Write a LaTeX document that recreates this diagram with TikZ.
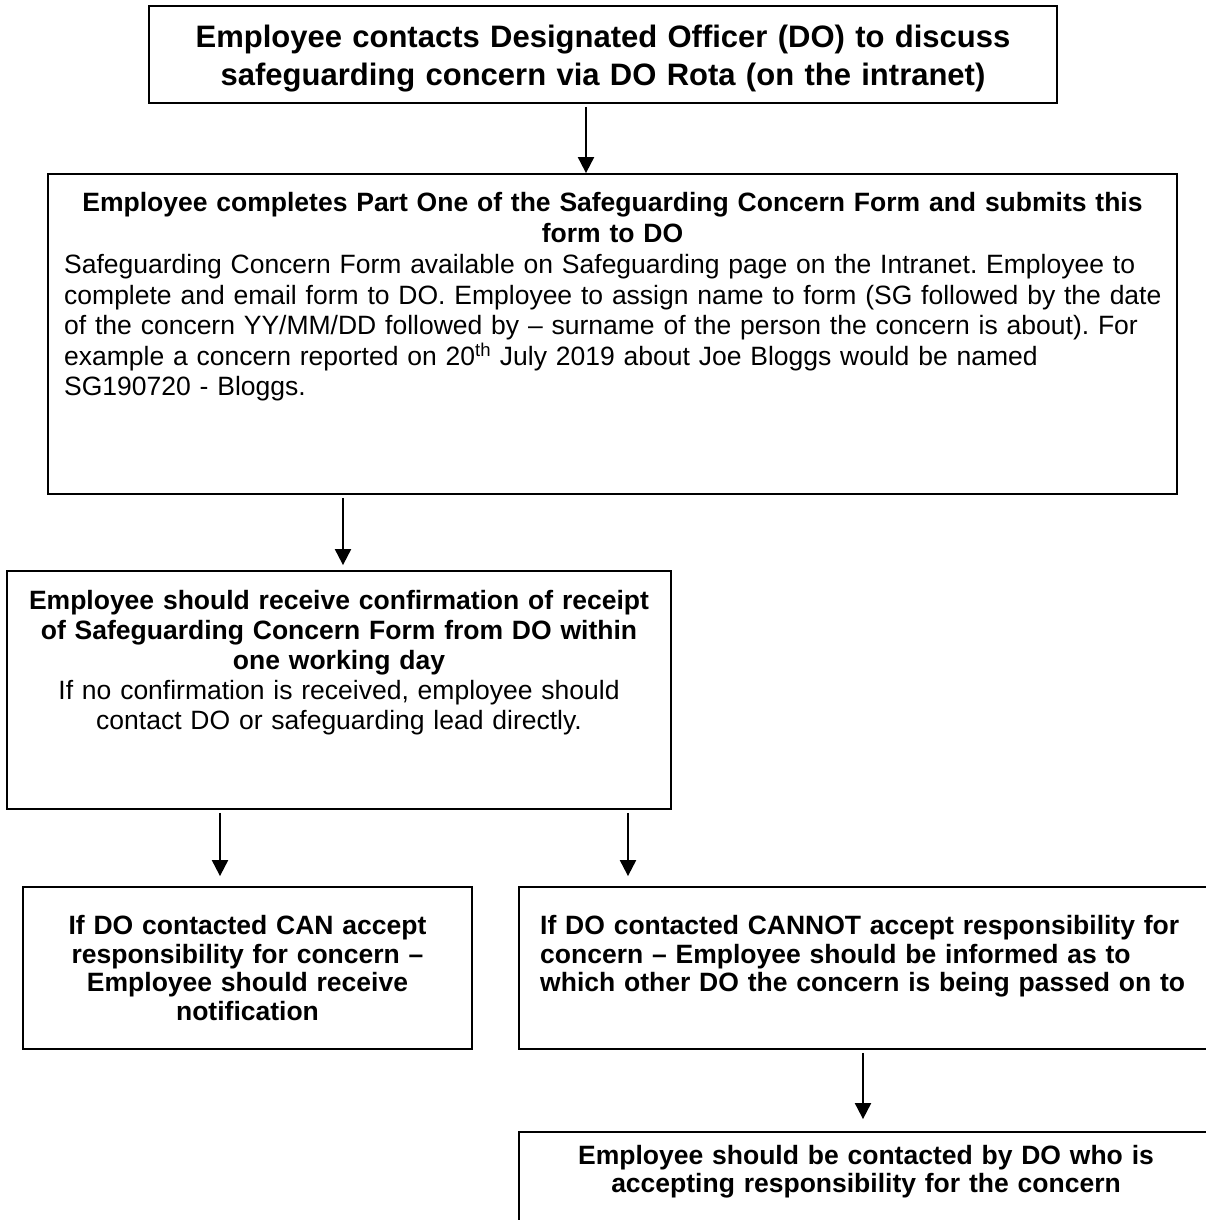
\documentclass[tikz,border=0pt]{standalone}
\usepackage{fontspec}
\setmainfont{Liberation Sans}
\usetikzlibrary{arrows.meta}
\newcommand\fz[2]{\fontsize{#1}{#2}\selectfont}
\frenchspacing
\begin{document}
\begin{tikzpicture}[x=1pt,y=-1pt,
  box/.style={draw=black, line width=1.8pt, inner sep=0pt},
  txt/.style={inner sep=0pt},
  arr/.style={line width=2pt, -{Triangle[length=16pt,width=16pt]}, shorten <=3pt}]
\clip (0,0) rectangle (1206,1220);
\fill[white] (0,0) rectangle (1206,1220);
% boxes
\node[box, minimum width=908pt, minimum height=97pt] (b1) at (603,54.5) {};
\node[box, minimum width=1129pt, minimum height=320pt] (b2) at (612.5,334) {};
\node[box, minimum width=664pt, minimum height=238pt] (b3) at (339,690) {};
\node[box, minimum width=449pt, minimum height=162pt] (b4) at (247.5,968) {};
\node[box, minimum width=701pt, minimum height=162pt] (b5) at (869.5,968) {};
\node[box, minimum width=701pt, minimum height=108pt] (b6) at (869.5,1186) {};
% texts
\node[txt, anchor=north, text width=880pt, align=center, font=\fz{31}{38}\bfseries] (t1) at (603,21)
  {\strut Employee contacts Designated Officer (DO) to discuss\\safeguarding concern via DO Rota (on the intranet)};
\node[txt, anchor=north, text width=1097pt, align=center, font=\fz{26.5}{30.5}\bfseries] (t2a) at (612.5,190)
  {\strut Employee completes Part One of the Safeguarding Concern Form and submits this\\form to DO};
\node[txt, anchor=north west, text width=1110pt, align=left, font=\fz{26.5}{30.5}] (t2b) at (64,252)
  {\strut Safeguarding Concern Form available on Safeguarding page on the Intranet. Employee to\\
   complete and email form to DO. Employee to assign name to form (SG followed by the date\\
   of the concern YY/MM/DD followed by – surname of the person the concern is about). For\\
   example a concern reported on 20\textsuperscript{th} July 2019 about Joe Bloggs would be named\\
   SG190720 - Bloggs.};
\node[txt, anchor=north, text width=640pt, align=center, font=\fz{26.5}{30}] (t3) at (339,588.5)
  {\strut\textbf{Employee should receive confirmation of receipt}\\
   \textbf{of Safeguarding Concern Form from DO within}\\
   \textbf{one working day}\\
   If no confirmation is received, employee should\\
   contact DO or safeguarding lead directly.};
\node[txt, anchor=north, text width=430pt, align=center, font=\fz{26.5}{28.5}\bfseries] (t4) at (247.5,914.5)
  {\strut If DO contacted CAN accept\\responsibility for concern –\\Employee should receive\\notification};
\node[txt, anchor=north west, text width=660pt, align=left, font=\fz{26.5}{28.5}\bfseries] (t5) at (540,914.5)
  {\strut If DO contacted CANNOT accept responsibility for\\concern – Employee should be informed as to\\which other DO the concern is being passed on to};
\node[txt, anchor=north, text width=660pt, align=center, font=\fz{26.5}{28}\bfseries] (t6) at (866,1144.5)
  {\strut Employee should be contacted by DO who is\\accepting responsibility for the concern};
% arrows
\draw[arr] (b1.south -| 586,0) -- (b2.north -| 586,0);
\draw[arr, shorten >=5pt] (b2.south -| 343,0) -- (b3.north -| 343,0);
\draw[arr, shorten >=10pt] (b3.south -| 220,0) -- (b4.north -| 220,0);
\draw[arr, shorten >=10pt] (b3.south -| 628,0) -- (b5.north -| 628,0);
\draw[arr, shorten >=12pt] (b5.south -| 863,0) -- (b6.north -| 863,0);
\end{tikzpicture}
\end{document}
